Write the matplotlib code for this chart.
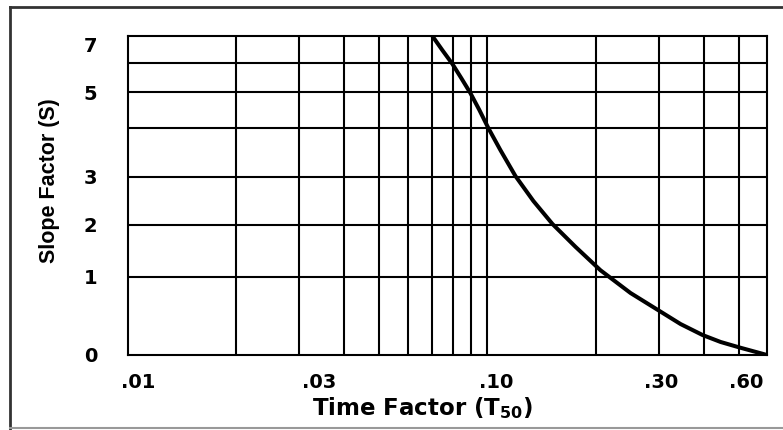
import numpy as np
import matplotlib
matplotlib.use('Agg')
from matplotlib import pyplot as plt
from matplotlib.lines import Line2D

plt.rcParams['font.family'] = ['DejaVu Sans']
plt.rcParams['mathtext.fontset'] = 'dejavusans'

# curve: time factor T50 vs slope factor S
t50 = [0.0703, 0.0749, 0.0799, 0.0846, 0.0897, 0.0950, 0.1006, 0.1087, 0.1197, 0.1343,
       0.1518, 0.1759, 0.2064, 0.2502, 0.3014, 0.3448, 0.3971, 0.4457, 0.5035, 0.60]
slope = [7.0, 6.48, 5.97, 5.48, 4.97, 4.5, 4.0, 3.55, 3.02, 2.5,
         2.02, 1.58, 1.13, 0.795, 0.564, 0.397, 0.256, 0.167, 0.096, 0.0]

# grid lines of the chart paper
x_grid = [0.02, 0.03, 0.04, 0.05, 0.06, 0.07, 0.08, 0.09, 0.1, 0.2, 0.3, 0.4, 0.5]
y_grid = [1, 2, 3, 4, 5, 6]

# tick labels (printed slightly off the lines in the original)
x_tick_pos = [0.0107, 0.034, 0.106, 0.305, 0.525]
x_tick_lab = ['.01', '.03', '.10', '.30', '.60']
y_tick_pos = [0, 1, 2, 3, 5, 6.68]
y_tick_lab = ['0', '1', '2', '3', '5', '7']

# nonuniform slope-factor scale of the printed paper
s_vals = [0, 1, 2, 3, 4, 5, 6, 7]
s_pos = [0, 78, 130, 178, 227, 263, 292, 319]

def fwd(v):
    return np.interp(v, s_vals, s_pos)

def inv(v):
    return np.interp(v, s_pos, s_vals)

fig = plt.figure(figsize=(7.83, 4.30), dpi=100)
ax = fig.add_axes([128/783, 1-355/430, (767-128)/783, (355-36)/430])

ax.set_xscale('log')
ax.set_yscale('function', functions=(fwd, inv))
ax.set_xlim(0.01, 0.6)
ax.set_ylim(0, 7)

for xv in x_grid:
    ax.axvline(xv, color='black', lw=1.5, zorder=1)
for yv in y_grid:
    ax.axhline(yv, color='black', lw=1.5, zorder=1)

ax.plot(t50, slope, color='black', lw=2.9, solid_capstyle='round',
        solid_joinstyle='round', zorder=3)

ax.set_xticks(x_tick_pos, x_tick_lab)
ax.set_yticks(y_tick_pos, y_tick_lab)
ax.xaxis.set_minor_locator(matplotlib.ticker.NullLocator())
ax.yaxis.set_minor_locator(matplotlib.ticker.NullLocator())
ax.tick_params(which='both', length=0)
ax.tick_params(axis='x', pad=13, labelsize=14)
ax.tick_params(axis='y', pad=22, labelsize=14)
for lab in ax.get_xticklabels() + ax.get_yticklabels():
    lab.set_fontweight('bold')
for sp in ax.spines.values():
    sp.set_linewidth(1.5)

fig.text(422/783, 1-408/430, r'Time Factor (T$\mathbf{_{50}}$)', ha='center', va='center',
         fontsize=16.5, fontweight='bold')
fig.text(50/783, 1-181/430, 'Slope Factor (S)', rotation=90, ha='center', va='center',
         fontsize=15.5, fontweight='bold', family='Liberation Sans')

# page frame around the figure
fig.add_artist(Line2D([10/783, 1], [1-7/430, 1-7/430], color='#333333', lw=2))
fig.add_artist(Line2D([10/783, 10/783], [0, 1-7/430], color='#333333', lw=2))
fig.add_artist(Line2D([10/783, 1], [1-428/430, 1-428/430], color='#999999', lw=1.5))

fig.savefig('out.png', dpi=100)
